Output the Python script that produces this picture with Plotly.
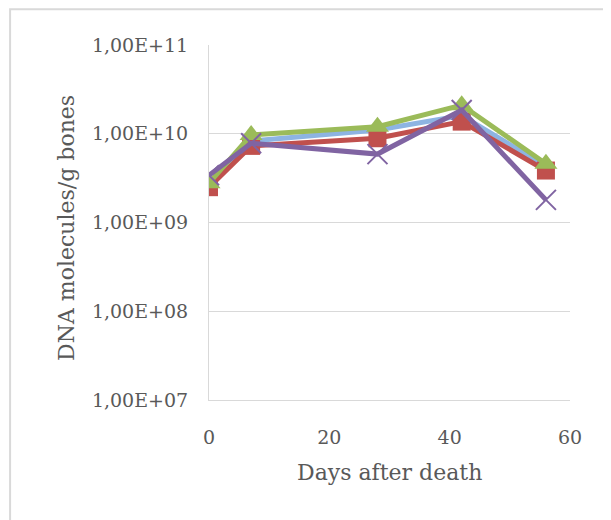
import plotly.graph_objects as go

# Days after death and DNA molecules per g bone (one list per series)
days = [0, 7, 28, 42, 56]
series_blue = [2.7e9, 8.3e9, 1.1e10, 1.6e10, 4.3e9]
series_red = [2.5e9, 7.3e9, 8.9e9, 1.37e10, 3.85e9]
series_green = [2.77e9, 9.7e9, 1.2e10, 2.1e10, 4.6e9]
series_purple = [3.4e9, 7.8e9, 5.9e9, 1.85e10, 1.8e9]

y_tickvals = [1e7, 1e8, 1e9, 1e10, 1e11]
y_ticktext = ['1,00E+07', '1,00E+08', '1,00E+09', '1,00E+10', '1,00E+11']
x_tickvals = [0, 20, 40, 60]

font_name = 'DejaVu Serif'
text_color = '#595959'
grid_color = '#D9D9D9'

fig = go.Figure()
fig.add_trace(go.Scatter(x=days, y=series_blue, mode='lines+markers',
                         line=dict(color='#8DB4E2', width=5),
                         marker=dict(symbol='diamond', size=14, color='#8DB4E2')))
fig.add_trace(go.Scatter(x=days, y=series_red, mode='lines+markers',
                         line=dict(color='#C0504D', width=5),
                         marker=dict(symbol='square', size=18, color='#C0504D')))
fig.add_trace(go.Scatter(x=days, y=series_green, mode='lines+markers',
                         line=dict(color='#9BBB59', width=5),
                         marker=dict(symbol='triangle-up', size=20, color='#9BBB59')))
fig.add_trace(go.Scatter(x=days, y=series_purple, mode='lines+markers',
                         line=dict(color='#8064A2', width=5),
                         marker=dict(symbol='x-thin-open', size=20,
                                     line=dict(color='#8064A2', width=2))))

# page body adds 8px offset, margins compensate for it
fig.update_layout(
    width=611, height=520,
    margin=dict(l=201, r=49, t=37, b=128),
    paper_bgcolor='white', plot_bgcolor='white',
    showlegend=False,
    font=dict(family=font_name, size=19, color=text_color),
    xaxis=dict(range=[0, 60], tickvals=x_tickvals, showgrid=False,
               showline=True, linecolor=grid_color, linewidth=1,
               zeroline=False, ticks='', ticklabelstandoff=20),
    yaxis=dict(type='log', range=[7, 11], tickvals=y_tickvals, ticktext=y_ticktext,
               showgrid=True, gridcolor=grid_color, gridwidth=1,
               showline=True, linecolor=grid_color, linewidth=1,
               zeroline=False, ticks='', ticklabelstandoff=16),
    annotations=[
        dict(text='DNA molecules/g bones', xref='paper', yref='paper',
             x=-0.393, y=0.485, xanchor='center', yanchor='middle',
             textangle=-90, showarrow=False, font=dict(size=22, color=text_color)),
        dict(text='Days after death', xref='paper', yref='paper',
             x=0.5, y=-0.203, xanchor='center', yanchor='middle',
             showarrow=False, font=dict(size=22, color=text_color)),
    ],
    shapes=[
        dict(type='rect', xref='paper', yref='paper', x0=-0.551, x1=1.3,
             y0=-0.6, y1=1.101, line=dict(color=grid_color, width=2)),
    ],
)

fig.write_html('out.html')
